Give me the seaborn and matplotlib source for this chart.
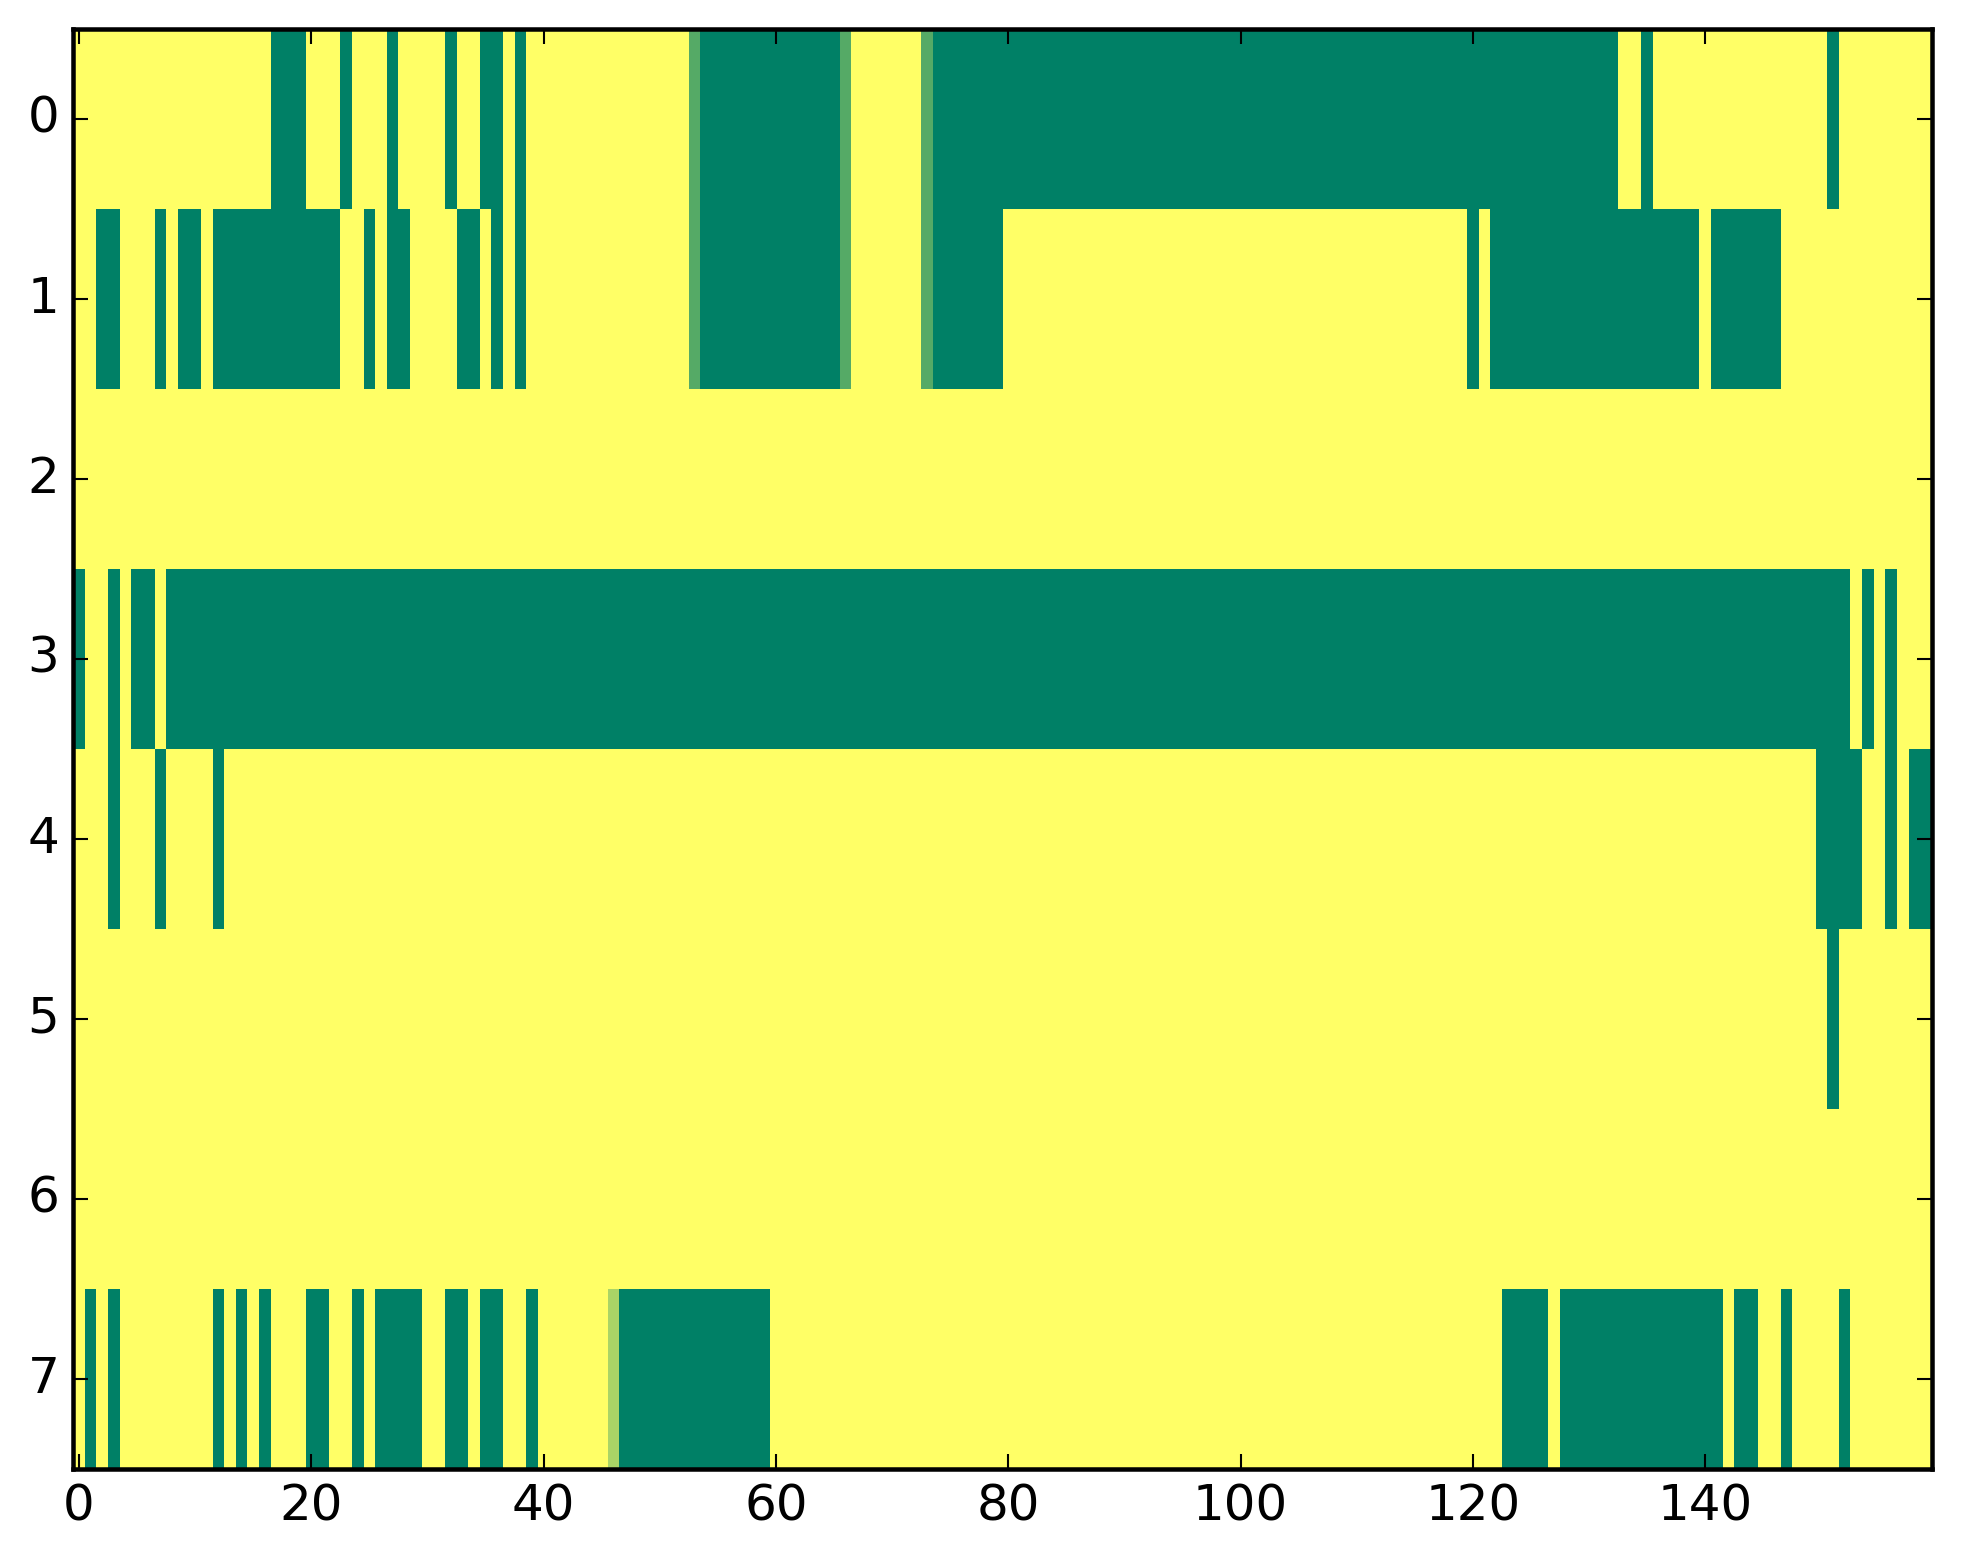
import numpy as np
import matplotlib
matplotlib.use("Agg")
import matplotlib.pyplot as plt
import seaborn as sns

# --- data: per row, runs of "off" cells (value 0), everything else is 1 ---
n_rows = 8
n_cols = 160

row0_off = [(17, 19), (23, 23), (27, 27), (32, 32), (35, 36), (38, 38),
            (54, 65), (74, 132), (135, 135), (151, 151)]
row1_off = [(2, 3), (7, 7), (9, 10), (12, 22), (25, 25), (27, 28), (33, 34),
            (36, 36), (38, 38), (54, 65), (74, 79), (120, 120), (122, 139),
            (141, 146)]
row2_off = []
row3_off = [(0, 0), (3, 3), (5, 6), (8, 152), (154, 154), (156, 156)]
row4_off = [(3, 3), (7, 7), (12, 12), (150, 153), (156, 156), (158, 159)]
row5_off = [(151, 151)]
row6_off = []
row7_off = [(1, 1), (3, 3), (12, 12), (14, 14), (16, 16), (20, 21), (24, 24),
            (26, 29), (32, 33), (35, 36), (39, 39), (47, 59), (123, 126),
            (128, 141), (143, 144), (147, 147), (152, 152)]

# partial cells: (row, col, value)
partial_cells = [(0, 53, 1/3), (0, 66, 1/3), (0, 73, 1/3),
                 (1, 53, 1/3), (1, 66, 1/3), (1, 73, 1/3),
                 (7, 46, 2/3)]

all_rows = [row0_off, row1_off, row2_off, row3_off,
            row4_off, row5_off, row6_off, row7_off]

grid = np.ones((n_rows, n_cols))
for r, runs in enumerate(all_rows):
    for a, b in runs:
        grid[r, a:b + 1] = 0.0
for r, c, v in partial_cells:
    grid[r, c] = v

# --- plot ---
plt.style.use("classic")
plt.rcParams["font.family"] = ["DejaVu Sans"]
fig = plt.figure(figsize=(1963 / 250, 1564 / 250), dpi=250)
fig.patch.set_facecolor("white")
ax = fig.add_axes([0.0373, 0.0609, 0.9841 - 0.0373, 0.9817 - 0.0609])

sns.heatmap(grid, cmap="summer", vmin=0, vmax=1, cbar=False, ax=ax,
            xticklabels=False, yticklabels=False)

for s in ax.spines.values():
    s.set_visible(True)
    s.set_color("black")
    s.set_linewidth(1.3)

xt = np.arange(0, 160, 20)
yt = np.arange(0, 8)
ax.set_xticks(xt + 0.5)
ax.set_xticklabels([str(v) for v in xt], rotation=0)
ax.set_yticks(yt + 0.5)
ax.set_yticklabels([str(v) for v in yt], rotation=0)
ax.tick_params(axis="both", which="major", direction="in", length=4.2, width=0.6,
               top=True, right=True, bottom=True, left=True,
               labelsize=14.4, colors="black", pad=4)
ax.set_xlim(0, n_cols)
ax.set_ylim(n_rows, 0)

fig.savefig("out.png", dpi=250, facecolor="white")
